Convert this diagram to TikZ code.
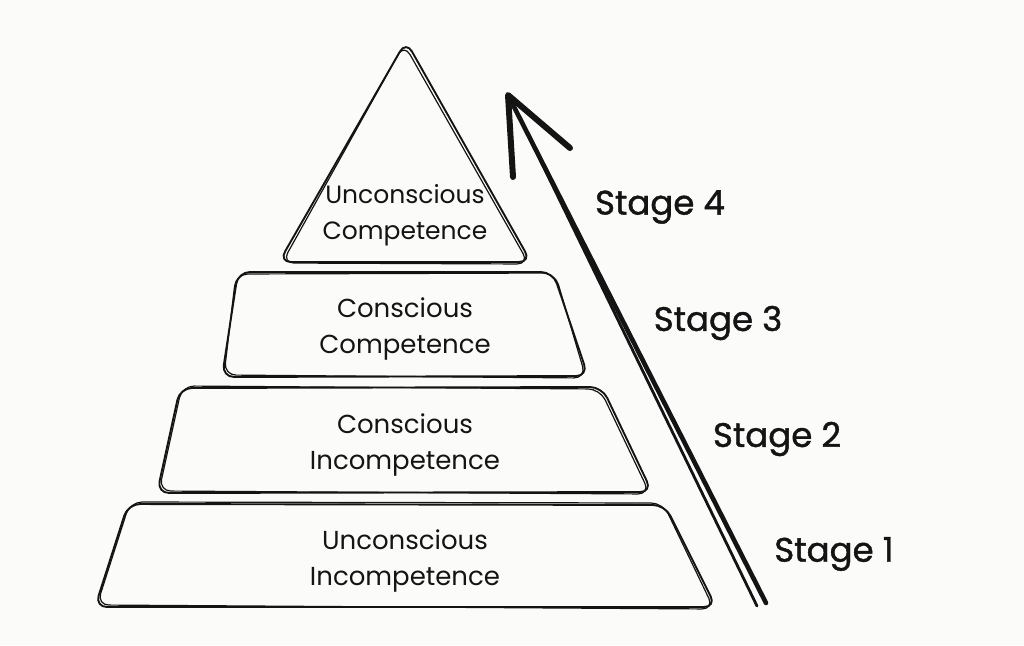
\documentclass[tikz,border=0pt]{standalone}
\usepackage{fontspec}
\setmainfont{Poppins}
\newfontfamily\stagefont{Poppins}[FakeBold=1.2]
\definecolor{bgc}{RGB}{251,251,249}
\definecolor{ink}{RGB}{20,20,20}
\begin{document}
\begin{tikzpicture}[x=1pt,y=-1pt,
  sk/.style={draw=ink, line width=1.9pt, rounded corners=12pt, line join=round},
  sk2/.style={draw=ink, line width=1.2pt, rounded corners=12pt, line join=round},
  lbl/.style={font=\fontsize{26}{36}\selectfont, align=center, text=ink, inner sep=0pt},
  stg/.style={font=\stagefont\fontsize{34}{34}\selectfont, text=ink, inner sep=0pt},
  shaft/.style={draw=ink, line cap=round},
  head/.style={draw=ink, line width=6pt, line cap=round, line join=round}]
\fill[bgc] (0,0) rectangle (1024,645);
\useasboundingbox (0,0) rectangle (1024,645);
% triangle (top)
\draw[sk] (406,41) -- (531,262) -- (279,262) -- cycle;
\draw[sk2] (404,44) -- (529,264) -- (282,263) -- cycle;
% level 3
\draw[sk] (238,272) -- (553,272) -- (588,376) -- (222,377) -- cycle;
\draw[sk2] (236,274) -- (555,273) -- (586,378) -- (224,375) -- cycle;
% level 2
\draw[sk] (180,388) -- (602,387) -- (652,492) -- (157,493) -- cycle;
\draw[sk2] (182,386) -- (600,389) -- (650,494) -- (159,491) -- cycle;
% level 1
\draw[sk] (128,504) -- (665,505) -- (716,607) -- (95,607) -- cycle;
\draw[sk2] (130,502) -- (663,503) -- (714,609) -- (97,605) -- cycle;
% labels
\node[lbl, font=\fontsize{25}{36}\selectfont] (t4) at (405,215) {Unconscious\\Competence};
\node[lbl] (t3) at (405,329) {Conscious\\Competence};
\node[lbl] (t2) at (405,445) {Conscious\\Incompetence};
\node[lbl] (t1) at (405,561) {Unconscious\\Incompetence};
% arrow
\coordinate (a0) at (766,603);
\coordinate (a1) at (508,95);
\coordinate (b0) at (757,606);
\coordinate (b1) at (512,102);
\coordinate (hl) at (513,177);
\coordinate (hr) at (570,148);
\draw[shaft, line width=4.6pt] (a0) -- (a1);
\draw[shaft, line width=2.8pt] (b0) -- (b1);
\draw[head] (hl) -- (a1) -- (hr);
% stages
\node[stg] (s4) at (660,207) {Stage 4};
\node[stg] (s3) at (718,323) {Stage 3};
\node[stg] (s2) at (777,439) {Stage 2};
\node[stg] (s1) at (834,554) {Stage 1};
\end{tikzpicture}
\end{document}
